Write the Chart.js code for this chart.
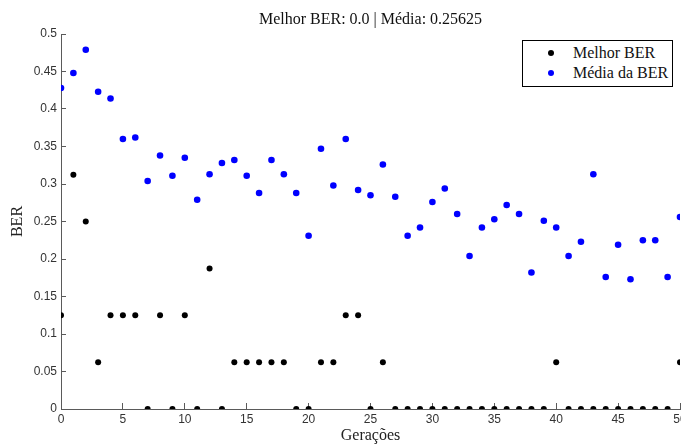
<!DOCTYPE html>
<html>
<head>
<meta charset="utf-8">
<script src="https://cdn.jsdelivr.net/npm/chart.js@4"></script>
<style>
  html, body { margin: 0; padding: 0; background: #fff; overflow: hidden; width: 681px; height: 445px; }
  #wrap { position: relative; width: 700px; height: 445px; }
  canvas { display: block; }
  #titulo { position: absolute; left: 61px; width: 619px; top: 10px; line-height: 16px; text-align: center;
            font: 16px "Liberation Serif", "Times New Roman", serif; color: #111; white-space: nowrap; }
  #legenda { position: absolute; left: 522px; top: 40px; width: 149px; height: 45px; border: 1px solid #000;
             background: #fff; font: 16px "Liberation Serif", "Times New Roman", serif; color: #111; }
  #legenda .item { position: absolute; left: 0; height: 20px; line-height: 20px; white-space: nowrap; }
  #legenda .dot { position: absolute; left: 25px; top: 7px; width: 6px; height: 6px; border-radius: 50%; }
  #legenda .txt { position: absolute; left: 50px; top: 0; }
</style>
</head>
<body>
<div id="wrap">
  <canvas id="grafico" width="700" height="445"></canvas>
  <div id="titulo">Melhor BER: 0.0 | Média: 0.25625</div>
  <div id="legenda"></div>
</div>
<script>
// Gerações (eixo X)
const geracoes = [0, 1, 2, 3, 4, 5, 6, 7, 8, 9, 10, 11, 12, 13, 14, 15, 16, 17, 18, 19, 20,
  21, 22, 23, 24, 25, 26, 27, 28, 29, 30, 31, 32, 33, 34, 35, 36, 37, 38, 39, 40,
  41, 42, 43, 44, 45, 46, 47, 48, 49, 50];

// Melhor BER por geração
const melhorBER = [0.125, 0.3125, 0.25, 0.0625, 0.125, 0.125, 0.125, 0, 0.125, 0, 0.125,
  0, 0.1875, 0, 0.0625, 0.0625, 0.0625, 0.0625, 0.0625, 0, 0,
  0.0625, 0.0625, 0.125, 0.125, 0, 0.0625, 0, 0, 0, 0,
  0, 0, 0, 0, 0, 0, 0, 0, 0, 0.0625,
  0, 0, 0, 0, 0, 0, 0, 0, 0, 0.0625];

// Média da BER por geração
const mediaBER = [0.428, 0.448, 0.479, 0.423, 0.414, 0.360, 0.362, 0.304, 0.338, 0.311,
  0.335, 0.279, 0.313, 0.328, 0.332, 0.311, 0.288, 0.332, 0.313, 0.288,
  0.231, 0.347, 0.298, 0.360, 0.292, 0.285, 0.326, 0.283, 0.231, 0.242,
  0.276, 0.294, 0.260, 0.204, 0.242, 0.253, 0.272, 0.260, 0.182, 0.251,
  0.242, 0.204, 0.223, 0.313, 0.176, 0.219, 0.173, 0.225, 0.225, 0.176, 0.256];

const nomesSeries = ['Melhor BER', 'Média da BER'];
const coresSeries = ['#000000', '#0000ff'];

function pontos(valores) {
  return geracoes.map((g, i) => ({ x: g, y: valores[i] }));
}

const corEixo = '#5a5a5a';
const fonteTicks = { family: '"Liberation Sans", Arial, sans-serif', size: 12 };
const fonteTitulo = { family: '"Liberation Serif", "Times New Roman", serif', size: 16 };

const ctx = document.getElementById('grafico').getContext('2d');
const grafico = new Chart(ctx, {
  type: 'scatter',
  data: {
    datasets: [{
      label: nomesSeries[0],
      data: pontos(melhorBER),
      backgroundColor: coresSeries[0],
      borderColor: coresSeries[0],
      pointRadius: 3,
      borderWidth: 0
    }, {
      label: nomesSeries[1],
      data: pontos(mediaBER),
      backgroundColor: coresSeries[1],
      borderColor: coresSeries[1],
      pointRadius: 3.3,
      borderWidth: 0
    }]
  },
  options: {
    responsive: false,
    animation: false,
    devicePixelRatio: 1,
    layout: { padding: { top: 34, right: 20, left: 0, bottom: 0 } },
    plugins: {
      legend: { display: false },
      title: { display: false },
      tooltip: { enabled: false }
    },
    scales: {
      x: {
        type: 'linear',
        min: 0,
        max: 50,
        border: { display: true, color: corEixo, width: 1 },
        grid: { drawOnChartArea: false, drawTicks: true, tickLength: -6, color: corEixo },
        ticks: { stepSize: 5, padding: 9, color: '#333', font: fonteTicks, maxRotation: 0 },
        title: { display: true, text: 'Gerações', color: '#222', font: fonteTitulo, padding: { top: 0, bottom: 0 } },
        afterFit: s => { s.height = 36; }
      },
      y: {
        min: 0,
        max: 0.5,
        border: { display: true, color: corEixo, width: 1 },
        grid: { drawOnChartArea: false, drawTicks: true, tickLength: -5, color: corEixo },
        ticks: {
          stepSize: 0.05, padding: 9, color: '#333', font: fonteTicks,
          callback: v => String(Number(v.toFixed(2)))
        },
        title: { display: true, text: 'BER', color: '#222', font: fonteTitulo, padding: { top: 8, bottom: 0 } },
        afterFit: s => { s.width = 61; }
      }
    }
  }
});

// Legenda com caixa, como no original
const legenda = document.getElementById('legenda');
grafico.data.datasets.forEach((ds, i) => {
  const item = document.createElement('div');
  item.className = 'item';
  item.style.top = (2 + i * 20) + 'px';
  item.style.width = '149px';
  item.innerHTML = '<span class="dot" style="background:' + ds.backgroundColor + '"></span><span class="txt">' + ds.label + '</span>';
  legenda.appendChild(item);
});
</script>
</body>
</html>
